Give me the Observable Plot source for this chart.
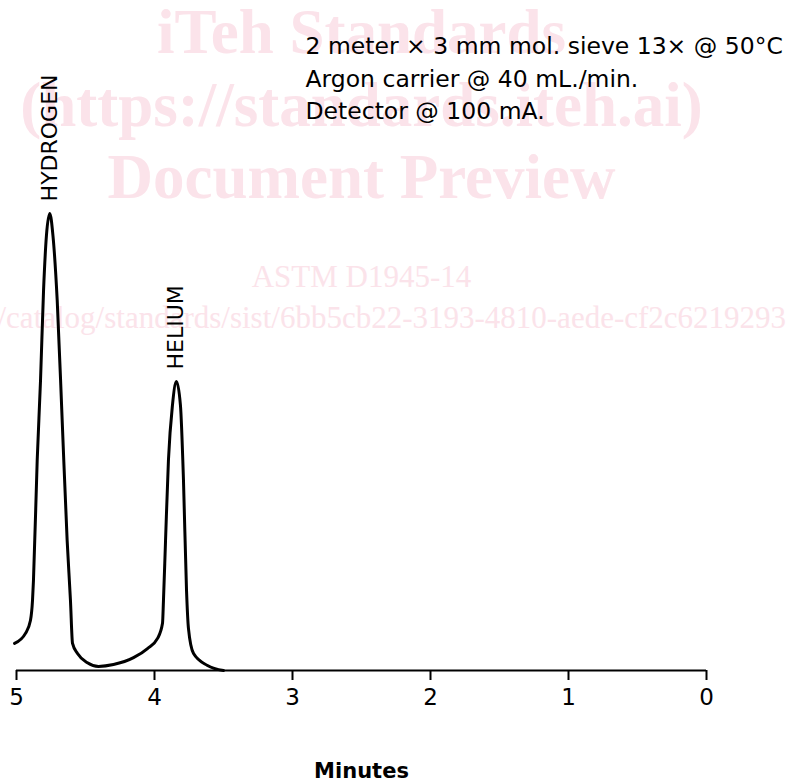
<!DOCTYPE html>
<html><head><meta charset="utf-8">
<script src="https://cdn.jsdelivr.net/npm/d3@7"></script>
<script src="https://cdn.jsdelivr.net/npm/@observablehq/plot@0.6"></script>
<style>body{margin:0;background:#fff;overflow:hidden;}</style>
</head><body><div id="chart"></div>
<script>
// Chromatogram trace (minutes, detector response; hydrogen peak ≈ 100)
const times  = [5.014, 4.935, 4.899, 4.884, 4.877, 4.850, 4.826, 4.804, 4.783, 4.759, 4.736, 4.705, 4.669, 4.633, 4.609, 4.594, 4.558, 4.486, 4.406, 4.297, 4.152, 4.051, 3.978, 3.942, 3.935, 3.920, 3.899, 3.870, 3.841, 3.812, 3.790, 3.768, 3.754, 3.717, 3.616, 3.500];
const signal = [5.9,   8.1,   10.9,  15.3,  19.7,  45.9,  63.3,  83.0,  95.0,  99.8,  95.0,  80.8,  54.6,  28.4,  15.3,  5.9,   3.7,   1.7,   0.9,   1.3,   2.8,   4.8,   7.0,   10.3,  15.3,  28.4,  45.9,  57.9,  63.1,  57.9,  41.5,  17.5,  9.2,   3.7,   1.1,   0.0];

const xTicks = [5, 4, 3, 2, 1, 0];
const xLabel = "Minutes";

const peakNames   = ["HYDROGEN", "HELIUM"];
const peakTimes   = [4.759, 3.841];
const peakHeights = [99.8, 63.1];

const noteLines = ["2 meter × 3 mm mol. sieve 13× @ 50°C", "Argon carrier @ 40 mL./min.", "Detector @ 100 mA."];

const wmBig = ["iTeh Standards", "(https://standards.iteh.ai)", "Document Preview"];
const wmStd = "ASTM D1945-14";
const wmUrl = "/catalog/standards/sist/6bb5cb22-3193-4810-aede-cf2c62192939/astm-d1945-14";

const trace = times.map((t, i) => ({t, v: signal[i]}));
const peaks = peakNames.map((name, i) => ({name, t: peakTimes[i], v: peakHeights[i]}));

const pink = "#fbe3ea";
const serif = "Liberation Serif, Times New Roman, serif";

const chart = Plot.plot({
  width: 786,
  height: 782,
  marginLeft: 16,
  marginRight: 80,
  marginTop: 212,
  marginBottom: 112,
  style: {fontFamily: "DejaVu Sans, Verdana, sans-serif", background: "white", overflow: "visible"},
  x: {domain: [d3.max(xTicks), d3.min(xTicks)]},
  y: {domain: [0, 100], axis: null},
  marks: [
    // watermark
    Plot.text([wmBig[0]], {frameAnchor: "top", lineAnchor: "middle", dy: -180, fontSize: 63, fontWeight: "bold", fontFamily: serif, fill: pink}),
    Plot.text([wmBig[1]], {frameAnchor: "top", lineAnchor: "middle", dy: -107, fontSize: 63, fontWeight: "bold", fontFamily: serif, fill: pink}),
    Plot.text([wmBig[2]], {frameAnchor: "top", lineAnchor: "middle", dy: -35, fontSize: 63, fontWeight: "bold", fontFamily: serif, fill: pink}),
    Plot.text([wmStd], {frameAnchor: "top", lineAnchor: "middle", dy: 65, fontSize: 31, fontFamily: serif, fill: pink, ariaLabel: "wm-std"}),
    Plot.text([wmUrl], {frameAnchor: "top-left", textAnchor: "start", lineAnchor: "middle", dx: -19, dy: 106, fontSize: 31, fontFamily: serif, fill: pink}),
    // axis
    Plot.ruleY([0], {x1: d3.max(xTicks), x2: d3.min(xTicks), strokeWidth: 2}),
    Plot.axisX({ticks: xTicks, tickFormat: "d", tickSize: 10, tickPadding: 8, fontSize: 23, strokeWidth: 2, label: null}),
    Plot.text([xLabel], {frameAnchor: "bottom", dy: 101, lineAnchor: "middle", fontSize: 21, fontWeight: "bold"}),
    // trace
    Plot.line(trace, {x: "t", y: "v", curve: "monotone-x", stroke: "black", strokeWidth: 3}),
    // peak labels
    Plot.text(peaks, {x: "t", y: "v", text: "name", rotate: -90, textAnchor: "start", lineAnchor: "middle", dy: -12, fontSize: 22}),
    // conditions note
    Plot.text([noteLines.join("\n")], {frameAnchor: "top-left", textAnchor: "start", lineAnchor: "top", dx: 289, dy: -181, fontSize: 23.5, lineHeight: 1.37})
  ]
});
d3.select(chart).selectAll('g[aria-label="wm-std"] text').attr("text-decoration", "underline");
document.getElementById("chart").appendChild(chart);
</script>
</body></html>
